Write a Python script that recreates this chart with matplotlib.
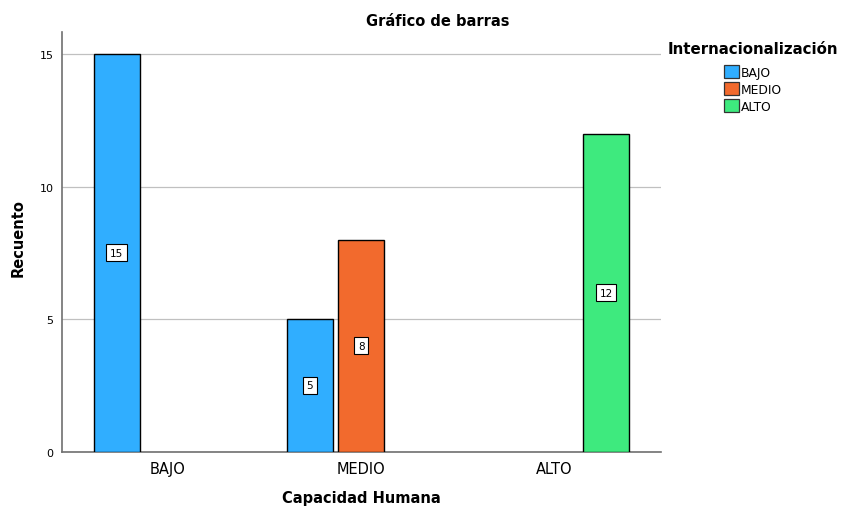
import matplotlib
matplotlib.use("Agg")
import matplotlib.pyplot as plt
from matplotlib.patches import Patch
import numpy as np

# Counts of "Capacidad Humana" categories split by "Internacionalización"
categories = ["BAJO", "MEDIO", "ALTO"]
groups = ["BAJO", "MEDIO", "ALTO"]
counts_bajo = [15, 5, 0]
counts_medio = [0, 8, 0]
counts_alto = [0, 0, 12]
yticks = [0, 5, 10, 15]

colors = ["#30AEFF", "#F26A2D", "#3EEA7E"]
series = [counts_bajo, counts_medio, counts_alto]

W, H = 842, 510
fig = plt.figure(figsize=(W / 100, H / 100), dpi=100)
ax_left, ax_right, ax_top, ax_bottom = 62, 661, 33, 452.7
ax = fig.add_axes([ax_left / W, 1 - ax_bottom / H,
                   (ax_right - ax_left) / W, (ax_bottom - ax_top) / H])

x = np.arange(len(categories))
slot = 0.266
width = 0.238
for i, (vals, col) in enumerate(zip(series, colors)):
    offs = (i - 1) * slot
    for xi, v in zip(x, vals):
        if v <= 0:
            continue
        ax.bar(xi + offs, v, width=width, color=col, edgecolor="black",
               linewidth=1.0, zorder=3)
        ax.text(xi + offs, v / 2, f"{v}", ha="center", va="center",
                fontsize=7.5, zorder=4,
                bbox=dict(boxstyle="square,pad=0.35", facecolor="white",
                          edgecolor="black", linewidth=0.8))

ax.set_xlim(-0.548, 2.55)
ax.set_ylim(0, 15.83)
ax.set_xticks(x)
ax.set_xticklabels(categories, fontsize=10.5)
ax.set_yticks(yticks)
ax.set_yticklabels([str(t) for t in yticks], fontsize=8)
ax.tick_params(axis="both", length=0)
ax.tick_params(axis="x", pad=7)
ax.tick_params(axis="y", pad=6)
ax.yaxis.grid(True, color="#c0c0c0", linewidth=0.9, zorder=0)
ax.set_axisbelow(True)
for s in ["top", "right"]:
    ax.spines[s].set_visible(False)
for s in ["left", "bottom"]:
    ax.spines[s].set_color("#707070")
    ax.spines[s].set_linewidth(1.2)

fig.text(438 / W, 1 - 22 / H, "Gráfico de barras", ha="center", va="center",
         fontsize=10.5, fontweight="bold")
fig.text(18 / W, 1 - 238 / H, "Recuento", ha="center", va="center",
         rotation=90, fontsize=10.5, fontweight="bold")
fig.text(361 / W, 1 - 499 / H, "Capacidad Humana", ha="center", va="center",
         fontsize=10.5, fontweight="bold")

# Legend
fig.text(668 / W, 1 - 50 / H, "Internacionalización", ha="left", va="center",
         fontsize=10.8, fontweight="bold")
handles = [Patch(facecolor=c, edgecolor="#333333", linewidth=0.9) for c in colors]
fig.legend(handles, groups, loc="upper left",
           bbox_to_anchor=(724 / W, 1 - 66 / H), frameon=False,
           fontsize=8.8, handlelength=1.2, handleheight=1.25,
           handletextpad=0.2, labelspacing=0.3, borderpad=0,
           borderaxespad=0)

fig.savefig("out.png", dpi=100)
